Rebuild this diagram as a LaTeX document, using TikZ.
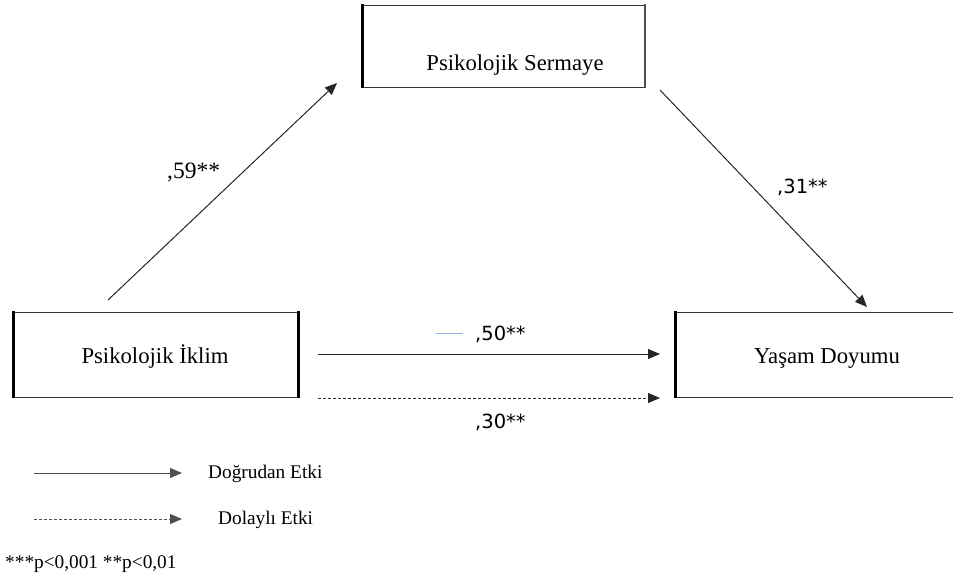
\documentclass[tikz,border=0pt]{standalone}
\usepackage{fontspec}
\setmainfont{Liberation Serif}
\newfontfamily\numfont{DejaVu Sans}
\usetikzlibrary{arrows.meta}
\definecolor{lineclr}{HTML}{262626}
\definecolor{legclr}{HTML}{505050}
\definecolor{tickblue}{HTML}{8FB4E3}
\tikzset{
  boxtext/.style={font=\fontsize{22.7}{25}\selectfont, anchor=base, inner sep=0pt},
  legtext/.style={font=\fontsize{19.3}{22}\selectfont, anchor=base west, inner sep=0pt},
  serifnum/.style={font=\fontsize{23.5}{26}\selectfont, anchor=base west, inner sep=0pt},
  sansnum/.style={font=\numfont\fontsize{19.5}{22}\selectfont, anchor=base west, inner sep=0pt},
  frame/.style={draw=black!80, line width=0.9pt},
  thickside/.style={draw=black, line width=3pt},
  arr/.style={draw=lineclr, line width=1pt, -{Triangle[length=12pt,width=10pt]}},
  legarr/.style={draw=legclr, line width=1pt, -{Triangle[length=12pt,width=10pt]}},
  dashline/.style={dash pattern=on 3pt off 2pt},
}
\begin{document}
\begin{tikzpicture}[x=1pt,y=-1pt]
\useasboundingbox (0,0) rectangle (953,582);
\begin{scope}
\clip (0,0) rectangle (953,582);
% Psikolojik Sermaye box
\draw[frame] (362,5) rectangle (645,87);
\draw[thickside] (362,4) -- (362,88);
\draw[draw=black!70, line width=2.2pt] (645,4) -- (645,88);
% Psikolojik Iklim box
\draw[frame] (13,312) rectangle (298,397);
\draw[thickside] (13,311) -- (13,398);
\draw[thickside] (298,311) -- (298,398);
% Yasam Doyumu box
\draw[frame] (675,312) rectangle (960,397);
\draw[thickside] (675,311) -- (675,398);
\end{scope}
\node[boxtext] (ps) at (515,70) {Psikolojik Sermaye};
\node[boxtext] (pi) at (155,363) {Psikolojik İklim};
\node[boxtext] (yd) at (827,363) {Yaşam Doyumu};
% connector end points
\coordinate (a1) at (108,300);
\coordinate (a2) at (337,83);
\coordinate (b1) at (660,90);
\coordinate (b2) at (867,307);
\coordinate (c1) at (318,354);
\coordinate (c2) at (660,354);
\coordinate (d1) at (318,398);
\coordinate (d2) at (660,398);
\draw[arr] (a1) -- (a2);
\draw[arr] (b1) -- (b2);
\draw[arr] (c1) -- (c2);
\draw[arr, dashline] (d1) -- (d2);
\coordinate (t1) at (436,333);
\coordinate (t2) at (463,333);
\draw[tickblue, line width=0.8pt] (t1) -- (t2);
% labels
\node[serifnum] (l59) at (167,178) {,59**};
\node[sansnum] (l31) at (777,193) {,31**};
\node[sansnum] (l50) at (475,340) {,50**};
\node[sansnum] (l30) at (475,428) {,30**};
% legend
\coordinate (e1) at (34,473);
\coordinate (e2) at (182,473);
\coordinate (f1) at (34,519);
\coordinate (f2) at (182,519);
\draw[legarr] (e1) -- (e2);
\draw[legarr, dashline] (f1) -- (f2);
\node[legtext] (dl) at (208,478) {Doğrudan Etki};
\node[legtext] (il) at (218,524) {Dolaylı Etki};
\node[legtext] (fn) at (5,568) {***p<0,001 **p<0,01};
\end{tikzpicture}
\end{document}
